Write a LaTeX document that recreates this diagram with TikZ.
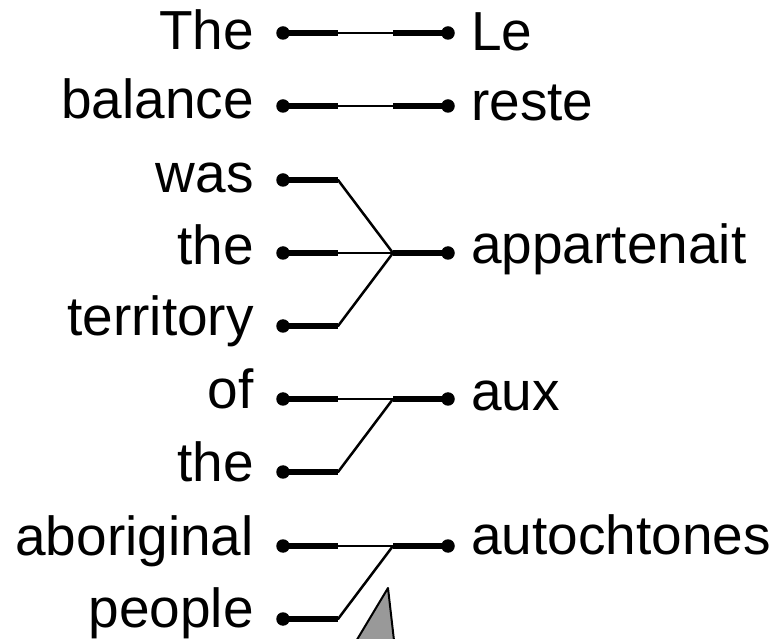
\documentclass[tikz,border=0pt]{standalone}
\usepackage{fontspec}
\setmainfont{Liberation Sans}
\begin{document}
\begin{tikzpicture}[x=1pt,y=1pt,
  dot/.style={circle,fill=black,inner sep=0pt,minimum size=13.5pt},
  word/.style={inner sep=0pt,font=\fontsize{55}{60}\selectfont},
  srcword/.style={word,anchor=base east},
  tgtword/.style={word,anchor=base west},
  heavy/.style={line width=6pt},
  light/.style={line width=2pt},
  slant/.style={line width=2.5pt,line cap=round,line join=round}]

\useasboundingbox (0,0) rectangle (777,638);

% source words (right aligned) and their dots
\node[srcword] (s1) at (254,588) {The};
\node[srcword] (s2) at (254,519) {balance};
\node[srcword] (s3) at (254,445) {was};
\node[srcword] (s4) at (254,373) {the};
\node[srcword] (s5) at (254,302) {territory};
\node[srcword] (s6) at (254,229) {of};
\node[srcword] (s7) at (254,156) {the};
\node[srcword] (s8) at (254,83)  {aboriginal};
\node[srcword] (s9) at (254,11)  {people};

\node[dot] (l1) at (283,605) {};
\node[dot] (l2) at (283,532) {};
\node[dot] (l3) at (283,458) {};
\node[dot] (l4) at (283,385) {};
\node[dot] (l5) at (283,312) {};
\node[dot] (l6) at (283,239) {};
\node[dot] (l7) at (283,166) {};
\node[dot] (l8) at (283,92)  {};
\node[dot] (l9) at (283,19)  {};

% target words and their dots
\node[tgtword] (t1) at (471,587) {Le};
\node[tgtword] (t2) at (471,517) {reste};
\node[tgtword] (t4) at (471,374) {appartenait};
\node[tgtword] (t6) at (471,227) {aux};
\node[tgtword] (t8) at (471,84)  {autochtones};

\node[dot] (r1) at (448,605) {};
\node[dot] (r2) at (448,532) {};
\node[dot] (r4) at (448,385) {};
\node[dot] (r6) at (448,239) {};
\node[dot] (r8) at (448,92)  {};

% bend points beside the source dots
\foreach \i/\y in {1/605,2/532,3/458,4/385,5/312,6/239,7/166,8/92,9/19}
  \coordinate (a\i) at (338,\y);
% junctions beside the target dots
\foreach \i/\y in {1/605,2/532,4/385,6/239,8/92}
  \coordinate (b\i) at (393,\y);

% source stubs
\foreach \i in {1,...,9}
  \draw[heavy] (l\i.center) -- (a\i);
% target stubs
\foreach \i in {1,2,4,6,8}
  \draw[heavy] (b\i) -- (r\i.center);

% straight links
\draw[light] (a1) -- (b1);
\draw[light] (a2) -- (b2);
\draw[light] (a4) -- (b4);
\draw[light] (a6) -- (b6);
\draw[light] (a8) -- (b8);

% slanted links
\draw[slant] (a3) -- (b4);
\draw[slant] (a5) -- (b4);
\draw[slant] (a7) -- (b6);
\draw[slant] (a9) -- (b8);

% pointer shape cut off at the lower edge
\begin{scope}
  \clip (0,0) rectangle (777,638);
  \draw[fill=black!40,line width=2pt,line join=round]
    (388,50) -- (346,-20) -- (396,-20) -- cycle;
\end{scope}
\end{tikzpicture}
\end{document}
